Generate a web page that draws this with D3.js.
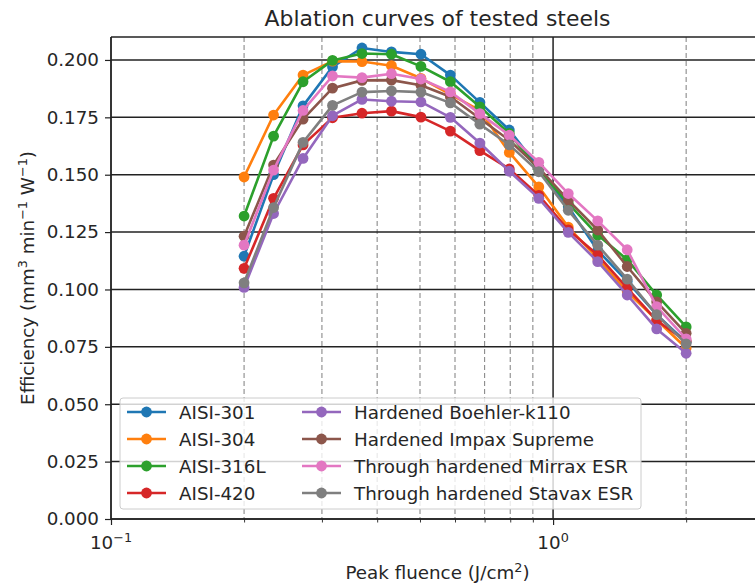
<!DOCTYPE html>
<html>
<head>
<meta charset="utf-8">
<script src="https://cdn.jsdelivr.net/npm/d3@7"></script>
<style>
  html, body { margin: 0; padding: 0; background: #fff; }
  svg { display: block; font-family: "DejaVu Sans", sans-serif; }
</style>
</head>
<body>
<svg id="chart" width="755" height="585"></svg>
<script>
// Peak fluence values (J/cm^2) at which ablation efficiency was measured
const fluence = [0.2, 0.2332, 0.2719, 0.3170, 0.3696, 0.4309, 0.5024, 0.5857,
                 0.6829, 0.7962, 0.9283, 1.0823, 1.2619, 1.4713, 1.7154, 2.0];

// Efficiency (mm^3 min^-1 W^-1) per steel
const aisi301   = [0.1145, 0.150, 0.180, 0.197, 0.2052, 0.2035, 0.2025, 0.1934, 0.1815, 0.1695, 0.153, 0.136, 0.117, 0.1035, 0.089, 0.077];
const aisi304   = [0.149, 0.176, 0.1934, 0.1995, 0.1993, 0.1975, 0.192, 0.185, 0.178, 0.1597, 0.1447, 0.1272, 0.1135, 0.099, 0.0867, 0.0745];
const aisi316L  = [0.132, 0.1668, 0.1905, 0.1998, 0.2028, 0.2025, 0.1972, 0.1905, 0.1796, 0.168, 0.152, 0.1375, 0.1237, 0.113, 0.0976, 0.0837];
const aisi420   = [0.1092, 0.1397, 0.163, 0.1748, 0.1768, 0.1777, 0.1751, 0.169, 0.1605, 0.1525, 0.141, 0.126, 0.115, 0.1006, 0.0865, 0.0775];
const boehlerK110 = [0.1009, 0.1331, 0.1571, 0.1757, 0.1828, 0.182, 0.1817, 0.175, 0.1638, 0.1515, 0.1397, 0.1249, 0.1121, 0.0976, 0.0828, 0.0722];
const impaxSupreme = [0.1232, 0.1542, 0.1742, 0.1877, 0.1911, 0.1912, 0.189, 0.184, 0.1745, 0.165, 0.153, 0.1389, 0.1259, 0.110, 0.0946, 0.0809];
const mirraxESR = [0.1193, 0.152, 0.178, 0.193, 0.1923, 0.194, 0.1917, 0.1861, 0.1766, 0.1672, 0.1554, 0.1418, 0.1299, 0.1173, 0.0925, 0.0785];
const stavaxESR = [0.1029, 0.1357, 0.1641, 0.1802, 0.186, 0.1865, 0.186, 0.1813, 0.172, 0.163, 0.1513, 0.1345, 0.1193, 0.1045, 0.089, 0.0763];

const seriesNames = ["AISI-301", "AISI-304", "AISI-316L", "AISI-420",
  "Hardened Boehler-k110", "Hardened Impax Supreme",
  "Through hardened Mirrax ESR", "Through hardened Stavax ESR"];
const seriesValues = [aisi301, aisi304, aisi316L, aisi420, boehlerK110, impaxSupreme, mirraxESR, stavaxESR];
const colors = ["#1f77b4", "#ff7f0e", "#2ca02c", "#d62728", "#9467bd", "#8c564b", "#e377c2", "#7f7f7f"];

const yTicks = [0, 0.025, 0.05, 0.075, 0.1, 0.125, 0.15, 0.175, 0.2];
const xMajorTicks = [0.1, 1];
const xMinorTicks = [0.2, 0.3, 0.4, 0.5, 0.6, 0.7, 0.8, 0.9, 2, 3];
const xMajorLabels = [["10", "\u22121"], ["10", "0"]];

const margin = { left: 111, top: 37, right: 764, bottom: 519 };
const svg = d3.select("#chart");
const FS = 18.3;
const SUP = FS * 0.7;

const x = d3.scaleLog().domain([0.1, 3]).range([margin.left, margin.right]);
const y = d3.scaleLinear().domain([0, 0.21]).range([margin.bottom, margin.top]);

// Grid: dashed minor verticals, solid major lines
const grid = svg.append("g");
grid.selectAll("line.minor").data(xMinorTicks).join("line")
  .attr("x1", d => x(d)).attr("x2", d => x(d))
  .attr("y1", margin.top).attr("y2", margin.bottom)
  .attr("stroke", "#8a8a8a").attr("stroke-width", 1.1).attr("stroke-dasharray", "5,3");
grid.selectAll("line.majx").data(xMajorTicks).join("line")
  .attr("x1", d => x(d)).attr("x2", d => x(d))
  .attr("y1", margin.top).attr("y2", margin.bottom)
  .attr("stroke", "#222").attr("stroke-width", 1.5);
grid.selectAll("line.majy").data(yTicks).join("line")
  .attr("x1", margin.left).attr("x2", margin.right)
  .attr("y1", d => y(d)).attr("y2", d => y(d))
  .attr("stroke", "#222").attr("stroke-width", 1.5);

// Series lines and markers (later series drawn on top)
const line = d3.line().x((d, i) => x(fluence[i])).y(d => y(d));
seriesValues.forEach((vals, s) => {
  const g = svg.append("g");
  g.append("path").attr("d", line(vals)).attr("fill", "none")
    .attr("stroke", colors[s]).attr("stroke-width", 2.6).attr("stroke-linejoin", "round");
  g.selectAll("circle").data(vals).join("circle")
    .attr("cx", (d, i) => x(fluence[i])).attr("cy", d => y(d)).attr("r", 5.4)
    .attr("fill", colors[s]);
});

// Spines
svg.append("line").attr("x1", margin.left).attr("x2", margin.left)
  .attr("y1", margin.top).attr("y2", margin.bottom).attr("stroke", "#222").attr("stroke-width", 1.3);
svg.append("line").attr("x1", margin.left).attr("x2", margin.right)
  .attr("y1", margin.bottom).attr("y2", margin.bottom).attr("stroke", "#222").attr("stroke-width", 1.3);
svg.append("line").attr("x1", margin.left).attr("x2", margin.right)
  .attr("y1", margin.top).attr("y2", margin.top).attr("stroke", "#222").attr("stroke-width", 1.3);

// Y axis
const yAxis = svg.append("g").attr("transform", `translate(${margin.left},0)`)
  .call(d3.axisLeft(y).tickValues(yTicks).tickFormat(d3.format(".3f")).tickSize(6).tickPadding(6));
yAxis.select(".domain").remove();
yAxis.selectAll("line").attr("stroke", "#222").attr("stroke-width", 1.2);
yAxis.selectAll("text").attr("font-size", FS).attr("fill", "#262626")
  .attr("font-family", "DejaVu Sans");

// X axis: major ticks with power-of-ten labels, minor ticks unlabeled
const xAxis = svg.append("g").attr("transform", `translate(0,${margin.bottom})`)
  .call(d3.axisBottom(x).tickValues(xMajorTicks).tickFormat("").tickSize(6));
xAxis.select(".domain").remove();
xAxis.selectAll("line").attr("stroke", "#222").attr("stroke-width", 1.2);
const xMinor = svg.append("g").attr("transform", `translate(0,${margin.bottom})`)
  .call(d3.axisBottom(x).tickValues(xMinorTicks).tickFormat("").tickSize(3.5));
xMinor.select(".domain").remove();
xMinor.selectAll("line").attr("stroke", "#222").attr("stroke-width", 0.9);

xMajorTicks.forEach((v, i) => {
  const t = svg.append("text").attr("x", x(v)).attr("y", 549)
    .attr("text-anchor", "middle").attr("font-size", FS).attr("fill", "#262626");
  t.append("tspan").text(xMajorLabels[i][0]);
  t.append("tspan").attr("dy", -7.5).attr("font-size", SUP).text(xMajorLabels[i][1]);
});

// Title and axis labels
svg.append("text").attr("x", (margin.left + margin.right) / 2).attr("y", 26)
  .attr("text-anchor", "middle").attr("font-size", 21.9).attr("fill", "#262626")
  .text("Ablation curves of tested steels");

const xl = svg.append("text").attr("x", (margin.left + margin.right) / 2).attr("y", 579)
  .attr("text-anchor", "middle").attr("font-size", FS).attr("fill", "#262626");
xl.append("tspan").text("Peak fluence (J/cm");
xl.append("tspan").attr("dy", -7.5).attr("font-size", SUP).text("2");
xl.append("tspan").attr("dy", 7.5).text(")");

const yl = svg.append("text")
  .attr("transform", `translate(34,${(margin.top + margin.bottom) / 2}) rotate(-90)`)
  .attr("text-anchor", "middle").attr("font-size", FS).attr("fill", "#262626");
yl.append("tspan").text("Efficiency (mm");
yl.append("tspan").attr("dy", -7.5).attr("font-size", SUP).text("3");
yl.append("tspan").attr("dy", 7.5).text(" min");
yl.append("tspan").attr("dy", -7.5).attr("font-size", SUP).text("\u22121");
yl.append("tspan").attr("dy", 7.5).text(" W");
yl.append("tspan").attr("dy", -7.5).attr("font-size", SUP).text("\u22121");
yl.append("tspan").attr("dy", 7.5).text(")");

// Legend (two columns, lower left)
const legend = svg.append("g");
legend.append("rect").attr("x", 120).attr("y", 398).attr("width", 521).attr("height", 111)
  .attr("rx", 3).attr("fill", "#fff").attr("fill-opacity", 0.8)
  .attr("stroke", "#cccccc").attr("stroke-width", 1);
const rowY = [412, 439, 466, 493];
const colX = [127, 302];
seriesNames.forEach((name, s) => {
  const col = Math.floor(s / 4), row = s % 4;
  const x0 = colX[col], yy = rowY[row];
  legend.append("line").attr("x1", x0).attr("x2", x0 + 39).attr("y1", yy).attr("y2", yy)
    .attr("stroke", colors[s]).attr("stroke-width", 2.6);
  legend.append("circle").attr("cx", x0 + 19.5).attr("cy", yy).attr("r", 5.4).attr("fill", colors[s]);
  legend.append("text").attr("x", x0 + 52).attr("y", yy + 6.5)
    .attr("font-size", FS).attr("fill", "#262626").text(name);
});
</script>
</body>
</html>
